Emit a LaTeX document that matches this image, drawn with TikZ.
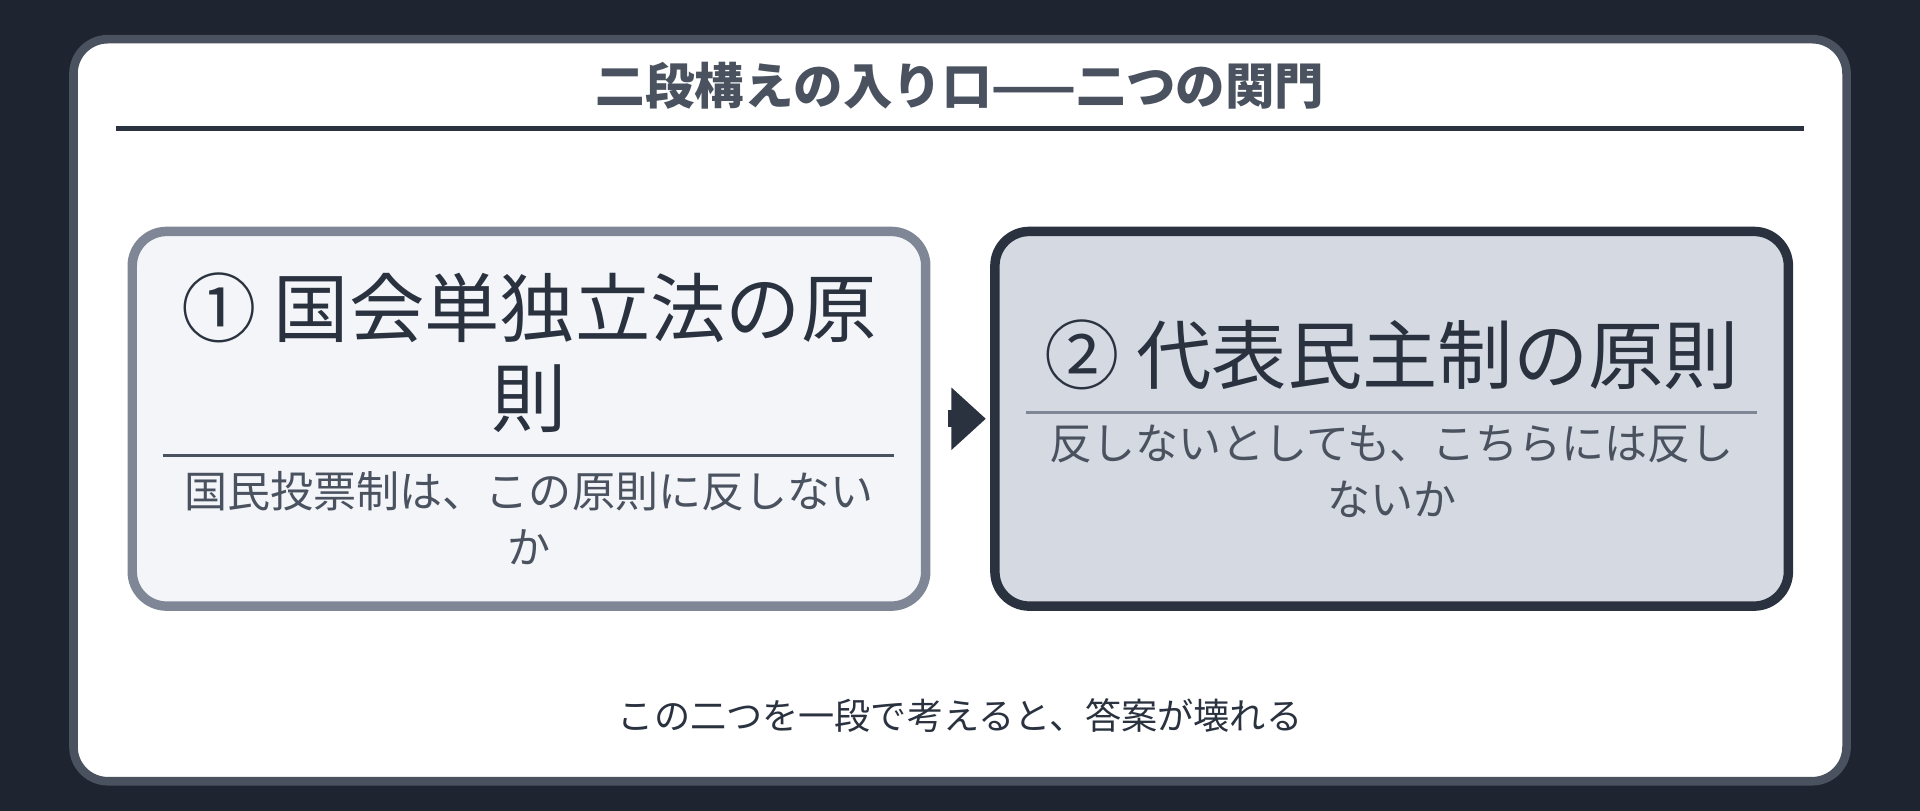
\documentclass[tikz,border=0pt]{standalone}
\usepackage{fontspec}
\setmainfont{Noto Sans CJK JP}
\usetikzlibrary{arrows.meta,positioning}
\definecolor{bgdark}{HTML}{1E2530}
\definecolor{ink}{HTML}{2A3240}
\definecolor{inkgray}{HTML}{4A5260}
\definecolor{boxa}{HTML}{F3F5F8}
\definecolor{boxb}{HTML}{D5DAE2}
\definecolor{framea}{HTML}{7F8796}
\tikzset{
  gate/.style={rounded corners=8pt, line width=2.2pt, minimum width=6.48cm, minimum height=3.06cm},
  head/.style={font=\fontsize{17.5}{22}\selectfont, text=ink, align=center},
  sub/.style={font=\fontsize{10}{13}\selectfont, text=inkgray, align=center}
}
\begin{document}
\begin{tikzpicture}
                % background
                \fill[bgdark] (0,0) rectangle (15.68,-6.62);
                \useasboundingbox (0,0) rectangle (15.68,-6.62);
                % card
                \draw[fill=white, draw=inkgray, line width=2pt, rounded corners=8pt] (0.60,-0.32) rectangle (15.08,-6.38);
                \node[font=\bfseries\fontsize{11.5}{14}\selectfont, text=inkgray] (title) at (7.84,-0.70) {二段構えの入り口——二つの関門};
                \draw[ink, line width=1pt] (0.95,-1.05) -- (14.73,-1.05);
                % gates
                \node[gate, draw=framea, fill=boxa] (gA) at (4.32,-3.42) {};
                \node[gate, draw=ink, fill=boxb] (gB) at (11.365,-3.42) {};
                \node[head] (hA) at (4.32,-2.88) {① 国会単独立法の原\\[-1pt]則};
                \draw[inkgray, line width=0.8pt] (1.33,-3.72) -- (7.30,-3.72);
                \node[sub] (sA) at (4.32,-4.23) {国民投票制は、この原則に反しない\\か};
                \node[head] (hB) at (11.365,-2.90) {② 代表民主制の原則};
                \draw[framea, line width=0.8pt] (8.38,-3.37) -- (14.35,-3.37);
                \node[sub] (sB) at (11.365,-3.85) {反しないとしても、こちらには反し\\ないか};
                % arrow
                \draw[-{Triangle[length=8pt,width=14pt]}, ink, line width=4pt, shorten <=4pt, shorten >=1pt] (gA.east) -- (gB.west);
                % footer
                \node[font=\fontsize{8.4}{10}\selectfont, text=ink] (foot) at (7.84,-5.84) {この二つを一段で考えると、答案が壊れる};
\end{tikzpicture}
\end{document}
